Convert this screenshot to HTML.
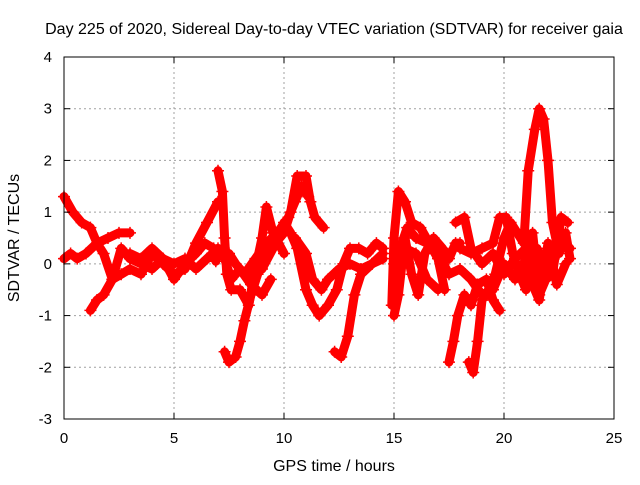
<!DOCTYPE html>
<html><head><meta charset="utf-8"><style>
body{margin:0;background:#fff}
svg text{font-family:"Liberation Sans",sans-serif;font-size:15px;fill:#000}
svg text.big{font-size:16px}
</style></head><body>
<svg id="chart" width="640" height="480">
<text class="big" x="334" y="34" text-anchor="middle">Day 225 of 2020, Sidereal Day-to-day VTEC variation (SDTVAR) for receiver gaia</text>
<text class="big" x="334" y="471" text-anchor="middle">GPS time / hours</text>
<text class="big" x="19" y="238" text-anchor="middle" transform="rotate(-90 19 238)">SDTVAR / TECUs</text>
<g id="grid"></g><g id="marks"></g><g id="axes"></g>
</svg>
<script>
const xTicks=[0,5,10,15,20,25];
const yTicks=[-3,-2,-1,0,1,2,3,4];
const track1=[[0,1.3],[0.4,1.0],[0.8,0.8],[1.2,0.7],[1.5,0.4],[1.8,0.2],[2.2,-0.3],[2.6,-0.2],[3.0,-0.1],[3.5,-0.2],[4,0.2],[4.5,0],[5,-0.2],[5.5,-0.1],[6,0.4],[6.5,0.8],[7,1.2]];
const track2=[[0,0.1],[0.3,0.2],[0.6,0.1],[1,0.2],[1.5,0.4],[2,0.5],[2.5,0.6],[3,0.6]];
const track3=[[1.2,-0.9],[1.5,-0.7],[1.8,-0.6],[2.2,-0.3],[2.6,0.3],[3,0.1],[3.5,0],[4,-0.1],[4.5,0.1],[5,-0.3],[5.5,0],[6,0.2],[6.4,0.4],[6.8,0.3],[6.9,0.05]];
const track4=[[7,1.8],[7.2,1.4],[7.3,0.5],[7.4,-0.2],[7.6,-0.5],[8,-0.5],[8.4,-0.8],[8.6,-0.3],[9,0.5],[9.2,1.1],[9.5,0.6],[10,0.2]];
const track5=[[7.3,-1.7],[7.5,-1.9],[7.8,-1.8],[8.0,-1.5],[8.2,-1.1],[8.5,-0.6],[8.8,-0.2],[9.2,0.2],[9.6,0.4],[10,0.6],[10.3,1.0],[10.6,1.7],[11,1.7],[11.2,1.2],[11.4,0.9],[11.8,0.7]];
const track6=[[9,-0.1],[9.5,0.3],[10,0.8],[10.3,0.6],[10.6,0.3],[11,-0.5],[11.3,-0.8],[11.6,-1.0],[12,-0.8],[12.4,-0.5],[12.7,0],[13,0.3],[13.4,0.3],[13.8,0.2],[14.2,0.4],[14.5,0.3]];
const track7=[[10.5,0.5],[11,0.2],[11.3,-0.3],[11.7,-0.5],[12,-0.3],[12.5,-0.1],[13,0],[13.5,-0.1],[14,0],[14.5,0.1]];
const track8=[[12.3,-1.7],[12.6,-1.8],[12.9,-1.4],[13.2,-0.6],[13.5,-0.2],[14,0],[14.5,0.2]];
const track9=[[14.9,-0.8],[15,0.5],[15.2,1.4],[15.5,1.2],[15.8,0.8],[16.2,0.7],[16.6,0.4],[17,0.1],[17.3,-0.5]];
const track10=[[15,-1.0],[15.2,-0.6],[15.5,0.5],[15.8,-0.2],[16.1,-0.6],[16.4,0.2],[16.8,0.5],[17.2,0.3],[17.5,0.1],[17.8,0.4],[18,0.4]];
const track11=[[15,0],[15.5,0.3],[16,0.2],[16.5,-0.3],[17,-0.5]];
const track12=[[17.5,-1.9],[17.7,-1.5],[17.9,-1.0],[18.2,-0.6],[18.5,-0.8],[18.8,-0.4],[19.2,-0.3],[19.5,-0.7],[19.8,-0.9]];
const track13=[[18.4,-1.9],[18.6,-2.1],[18.8,-1.5],[19,-0.7],[19.3,-0.5],[19.6,-0.2],[20,0.5],[20.3,0.8],[20.6,0.6],[20.9,0.4],[21.1,1.8],[21.4,2.6],[21.6,3.0],[21.8,2.8],[22,2.0],[22.2,0.8],[22.5,0.2],[22.8,0.6],[23,0.1]];
const track14=[[18,0.3],[18.5,0.2],[19,0.3],[19.5,0.4],[19.8,0.9],[20.1,0.9],[20.4,0.2],[20.7,-0.2],[21,-0.5],[21.3,0.6],[21.6,-0.6],[21.9,-0.3],[22.2,-0.2],[22.6,0.9],[22.9,0.8]];
const track15=[[17.8,0.8],[18.2,0.9],[18.5,0.3],[19,0],[19.5,0.2],[20,-0.2],[20.5,0.1],[21,0.3],[21.3,-0.4],[21.6,-0.7],[22,0.4],[22.4,-0.4],[22.8,0]];
const track16=[[3,0.2],[3.5,0.1],[4,0.3],[4.5,0.1],[5,0],[5.5,0.1],[6,-0.1],[6.5,0.1],[7,0.3],[7.3,0.1],[7.6,-0.3],[8,-0.1],[8.5,-0.4],[9,-0.6],[9.4,-0.3]];
const track17=[[7.5,0.2],[7.8,0],[8.2,-0.2],[8.7,0.1],[9.2,0.4],[9.7,0.6],[10.2,0.9],[10.5,1.2],[10.8,1.5],[11.1,1.3]];
const track18=[[15.2,0.2],[15.6,0.7],[16,0.5],[16.5,0.4],[17,0.2],[17.5,-0.2],[18,-0.1],[18.5,-0.3],[19,-0.6],[19.5,-0.5],[20,0],[20.5,-0.3],[21,0.1],[21.5,0.3],[22,-0.2],[22.5,0.5],[23,0.3]];
const tracks=[track1,track2,track3,track4,track5,track6,track7,track8,track9,track10,track11,track12,track13,track14,track15,track16,track17,track18];
const X0=64,X1=614,Y0=419,Y1=57;
const xs=v=>X0+(v-0)/(25-0)*(X1-X0);
const ys=v=>Y0-(v+3)/(4+3)*(Y0-Y1);
const NS="http://www.w3.org/2000/svg";
function mk(t,a,p){const e=document.createElementNS(NS,t);for(const k in a)e.setAttribute(k,a[k]);p.appendChild(e);return e;}
const grid=document.getElementById('grid'),axes=document.getElementById('axes'),marks=document.getElementById('marks');
xTicks.forEach(t=>{const x=xs(t);
 if(t>0&&t<25){const g=mk('line',{x1:x,x2:x,y1:Y0,y2:Y1,stroke:'#a0a0a0','stroke-dasharray':'2,3'},grid);
 
 }
 mk('line',{x1:x,x2:x,y1:Y0,y2:Y0-6,stroke:'#000'},axes);mk('line',{x1:x,x2:x,y1:Y1,y2:Y1+6,stroke:'#000'},axes);
 const l=mk('text',{x:x,y:443,'text-anchor':'middle'},axes);l.textContent=t;
 
 });
yTicks.forEach(t=>{const y=ys(t);
 if(t>-3&&t<4){const g=mk('line',{x1:X0,x2:X1,y1:y,y2:y,stroke:'#a0a0a0','stroke-dasharray':'2,3'},grid);
 
 }
 mk('line',{x1:X0,x2:X0+6,y1:y,y2:y,stroke:'#000'},axes);mk('line',{x1:X1,x2:X1-6,y1:y,y2:y,stroke:'#000'},axes);
 const l=mk('text',{x:52,y:y+5,'text-anchor':'end'},axes);l.textContent=t;
 
 });
const frame=mk('rect',{x:X0,y:Y1,width:X1-X0,height:Y0-Y1,fill:'none',stroke:'#000'},axes);


tracks.forEach((tr,i)=>{
 const g=mk('g',{},marks);
 
 
 mk('polyline',{points:tr.map(p=>xs(p[0])+','+ys(p[1])).join(' '),fill:'none',stroke:'#ff0000','stroke-width':9,'stroke-linejoin':'round','stroke-linecap':'round'},g);
 tr.forEach(p=>{const x=xs(p[0]),y=ys(p[1]);
  mk('path',{d:`M${x-6},${y}H${x+6}M${x},${y-6}V${y+6}`,stroke:'#ff0000','stroke-width':1.5},g);});
});
</script>
</body></html>
